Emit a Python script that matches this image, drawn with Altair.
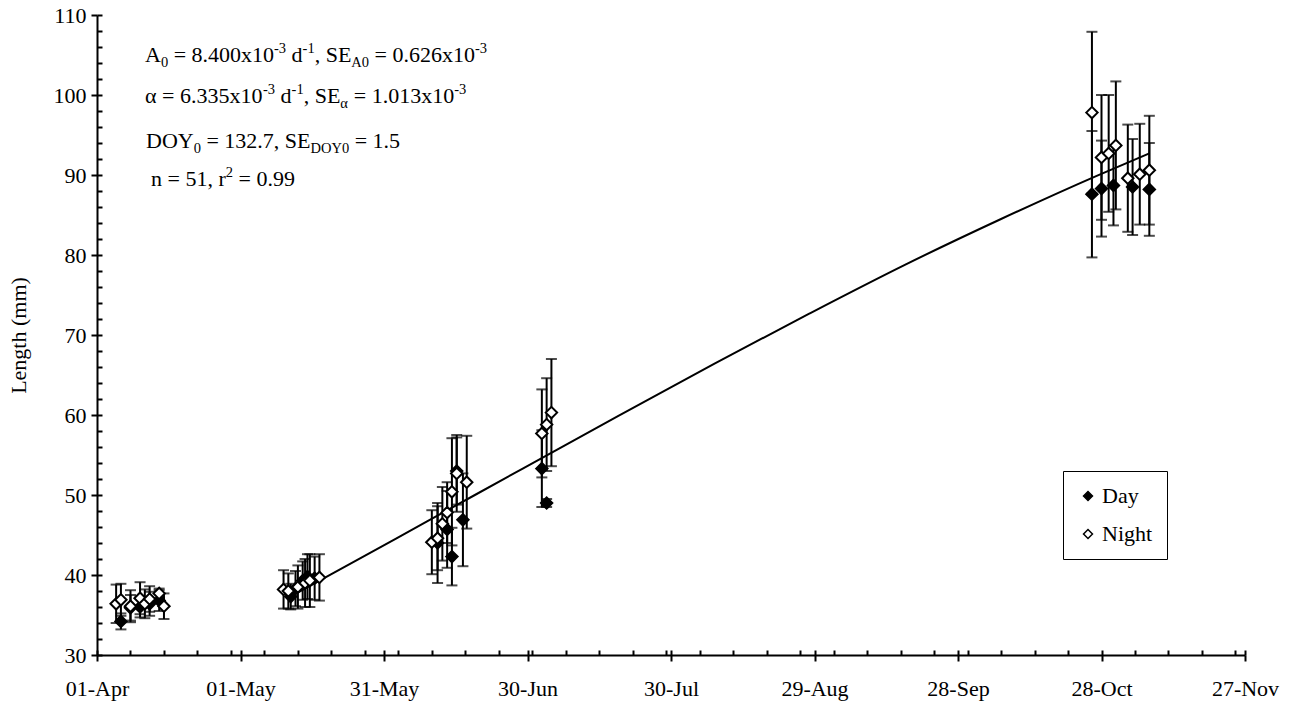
import altair as alt
import pandas as pd

FONT = "Liberation Serif"
FS = 22          # base text size
FS_SMALL = 14.5  # sub/superscript size

# x axis: day of year (non-leap year) with Excel-style date labels
tick_doy = [91, 121, 151, 181, 211, 241, 271, 301, 331]
tick_labels = ["01-Apr", "01-May", "31-May", "30-Jun", "30-Jul",
               "29-Aug", "28-Sep", "28-Oct", "27-Nov"]
y_ticks = [30, 40, 50, 60, 70, 80, 90, 100, 110]

# Day samples: day of year, mean length (mm), standard deviation
day_doy = [96, 98, 100, 102, 104,
           131.5, 132.5, 134, 135, 136.5,
           162.2, 164.2, 165.2, 166.2, 167.5,
           184, 185,
           299, 301, 303.5, 307.5, 311]
day_len = [34.2, 35.9, 36.0, 36.4, 36.8,
           37.3, 38.3, 39.3, 39.8, 39.6,
           44.0, 45.7, 42.3, 53.0, 46.9,
           53.3, 49.0,
           87.6, 88.3, 88.7, 88.5, 88.2]
day_sd = [1.0, 1.6, 1.3, 1.5, 1.3,
          1.6, 2.2, 2.4, 2.8, 2.7,
          5.0, 4.8, 3.6, 4.2, 5.8,
          4.8, 0.5,
          7.9, 6.0, 5.0, 6.0, 5.8]

# Night samples
night_doy = [95, 96, 98, 100, 101, 102, 104, 105,
             130, 131, 133, 134.5, 135.5, 137.5,
             161, 162.2, 163.2, 164.2, 165.2, 166.2, 168.3,
             184, 185, 186,
             299, 301, 302.5, 304, 306.5, 309, 311]
night_len = [36.4, 36.9, 36.1, 37.1, 36.4, 37.0, 37.7, 36.1,
             38.2, 38.0, 38.5, 39.0, 39.3, 39.7,
             44.1, 44.6, 46.4, 47.8, 50.4, 52.7, 51.6,
             57.7, 58.8, 60.3,
             97.8, 92.2, 92.7, 93.7, 89.6, 90.1, 90.6]
night_sd = [2.4, 2.0, 2.0, 2.0, 1.8, 1.6, 0.6, 1.6,
            2.4, 2.2, 2.7, 3.0, 3.3, 2.9,
            4.0, 4.0, 4.6, 3.8, 6.7, 4.8, 5.8,
            5.5, 5.8, 6.7,
            10.1, 7.8, 7.3, 8.0, 6.7, 6.3, 6.8]

# fitted growth curve
fit_doy = [133, 140, 160, 180, 200, 220, 240, 260, 280, 300, 311]
fit_len = [37.8, 40.1, 46.7, 53.3, 59.9, 66.4, 72.7, 78.8, 84.5, 89.9, 92.7]

day_df = pd.DataFrame({"doy": day_doy, "len": day_len, "sd": day_sd, "series": "Day"})
night_df = pd.DataFrame({"doy": night_doy, "len": night_len, "sd": night_sd, "series": "Night"})
fit_df = pd.DataFrame({"doy": fit_doy, "len": fit_len})

x_scale = alt.Scale(domain=[91, 331], nice=False, zero=False)
y_scale = alt.Scale(domain=[30, 110], nice=False, zero=False)

label_array = "[" + ",".join("'%s'" % t for t in tick_labels) + "]"

x_axis = alt.Axis(values=tick_doy, labelExpr=label_array + "[round((datum.value-91)/30)]",
                  tickSize=6, title=None, labelPadding=17, labelFlush=False)
y_axis = alt.Axis(values=y_ticks, tickSize=6, title="Length (mm)", titlePadding=23, labelPadding=5)

fill_scale = alt.Scale(domain=["Day", "Night"], range=["black", "white"])
legend = alt.Legend(title=None, orient="none", legendX=966, legendY=456,
                    strokeColor="black", fillColor="white", padding=14,
                    symbolType="diamond", symbolStrokeColor="black",
                    symbolStrokeWidth=1.5, symbolSize=80, labelOffset=3,
                    rowPadding=16, labelFont=FONT, labelFontSize=FS)

fit_line = alt.Chart(fit_df).mark_line(color="black", strokeWidth=2,
                                       interpolate="monotone").encode(
    x=alt.X("doy:Q", scale=x_scale, axis=x_axis),
    y=alt.Y("len:Q", scale=y_scale, axis=y_axis),
)

# inward minor ticks (every 7 days / every 2 mm)
minor_x = list(range(91, 332, 7)) + tick_doy
minor_y = list(range(30, 111, 2))
minor_ticks = alt.Chart(fit_df).mark_line(opacity=0).encode(
    x=alt.X("doy:Q", scale=x_scale,
            axis=alt.Axis(values=minor_x, orient="bottom", offset=-5, tickSize=5,
                          labels=False, domain=False, title=None)),
    y=alt.Y("len:Q", scale=y_scale,
            axis=alt.Axis(values=minor_y, orient="left", offset=-5, tickSize=5,
                          labels=False, domain=False, title=None)),
)


def error_layers(df):
    base = alt.Chart(df).transform_calculate(
        lo="datum.len - datum.sd", hi="datum.len + datum.sd")
    x = alt.X("doy:Q", scale=x_scale, axis=None)
    bar = base.mark_rule(color="black", strokeWidth=2).encode(
        x=x, y=alt.Y("lo:Q", scale=y_scale, axis=None), y2="hi:Q")
    cap_hi = base.mark_tick(color="black", orient="horizontal", size=11, thickness=2).encode(
        x=x, y=alt.Y("hi:Q", scale=y_scale, axis=None))
    cap_lo = base.mark_tick(color="black", orient="horizontal", size=11, thickness=2).encode(
        x=x, y=alt.Y("lo:Q", scale=y_scale, axis=None))
    return [bar, cap_hi, cap_lo]


def point_layer(df):
    return alt.Chart(df).mark_point(shape="diamond", filled=True, size=130,
                                    stroke="black", strokeWidth=2, opacity=1).encode(
        x=alt.X("doy:Q", scale=x_scale, axis=None),
        y=alt.Y("len:Q", scale=y_scale, axis=None),
        fill=alt.Fill("series:N", scale=fill_scale, legend=legend),
    )


# ---- fit statistics text with sub/superscripts ----
W = {" ": .25, ".": .25, ",": .25, "=": .564, "-": .333, "x": .5, "A": .722,
     "S": .556, "E": .611, "D": .722, "O": .722, "Y": .722, "d": .5, "n": .5,
     "r": .333, "α": .55}
for c in "0123456789":
    W[c] = .5


def text_width(s, size):
    return sum(W.get(c, .5) for c in s) * size


ann_lines = [
    (48, 47, [("A", ""), ("0", "sub"), (" = 8.400x10", ""), ("-3", "sup"), (" d", ""),
              ("-1", "sup"), (", SE", ""), ("A0", "sub"), (" = 0.626x10", ""), ("-3", "sup")]),
    (48, 88, [("α = 6.335x10", ""), ("-3", "sup"), (" d", ""), ("-1", "sup"), (", SE", ""),
              ("α", "sub"), (" = 1.013x10", ""), ("-3", "sup")]),
    (49, 133, [("DOY", ""), ("0", "sub"), (" = 132.7, SE", ""), ("DOY0", "sub"), (" = 1.5", "")]),
    (54, 171, [("n = 51, r", ""), ("2", "sup"), (" = 0.99", "")]),
]

text_layers = []
for x0, y0, pieces in ann_lines:
    x = x0
    for s, kind in pieces:
        size = FS if kind == "" else FS_SMALL
        dy = 0 if kind == "" else (5 if kind == "sub" else -9)
        lead = len(s) - len(s.lstrip(" "))
        body = s.strip(" ")
        text_layers.append(
            alt.Chart(pd.DataFrame({"t": [body]})).mark_text(
                align="left", baseline="alphabetic", font=FONT, fontSize=size,
                color="black").encode(
                x=alt.value(x + text_width(" " * lead, size)), y=alt.value(y0 + dy),
                text="t:N"))
        x += text_width(s, size)

chart = alt.layer(
    fit_line,
    minor_ticks,
    *error_layers(day_df),
    point_layer(day_df),
    *error_layers(night_df),
    point_layer(night_df),
    *text_layers,
).resolve_axis(x="independent", y="independent").properties(
    width=1148, height=640,
    autosize=alt.AutoSizeParams(type="none"),
    padding={"left": 97, "top": 15, "right": 51, "bottom": 52},
    background="white",
).configure_view(stroke=None).configure_axis(
    grid=False, domainColor="black", domainWidth=2, tickColor="black", tickWidth=2,
    labelColor="black", labelFont=FONT, labelFontSize=FS, titleFont=FONT,
    titleFontSize=FS, titleFontWeight="normal", titleColor="black",
)

chart.save("out.html", embed_options={"renderer": "svg", "actions": False})
